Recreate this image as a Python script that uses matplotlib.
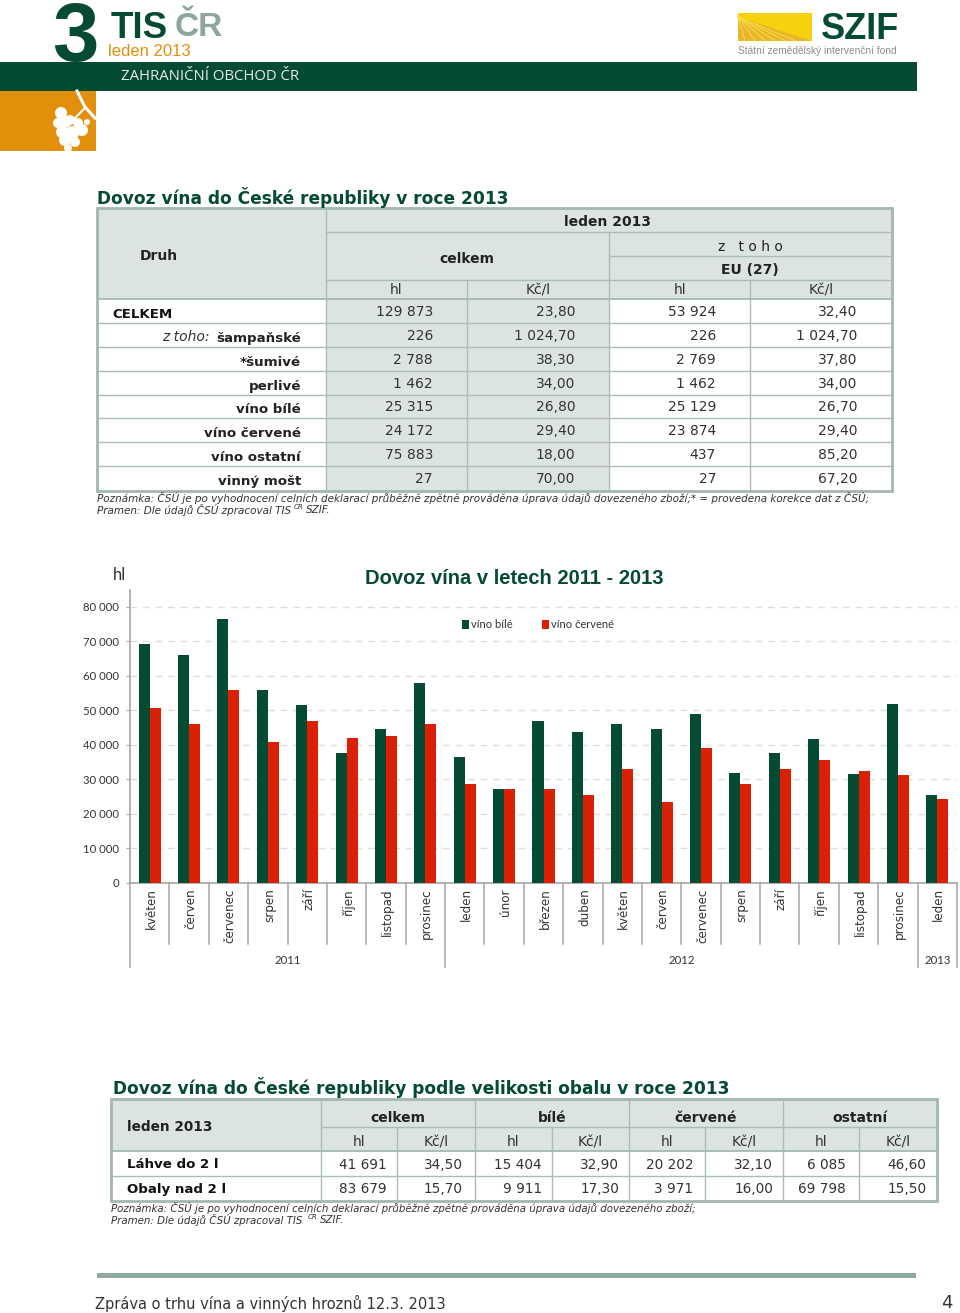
import numpy as np
import matplotlib
matplotlib.use("Agg")
import matplotlib.pyplot as plt
from matplotlib.patches import Rectangle, Ellipse, Polygon
from matplotlib.transforms import ScaledTranslation

# data
months = ["květen", "červen", "červenec", "srpen", "září", "říjen", "listopad", "prosinec",
          "leden", "únor", "březen", "duben", "květen", "červen", "červenec", "srpen",
          "září", "říjen", "listopad", "prosinec", "leden"]
bile = [69300, 65900, 76500, 56000, 51400, 37500, 44600, 57800, 36500, 27200, 46800,
        43800, 45900, 44600, 48900, 31900, 37500, 41600, 31500, 51900, 25500]
cervene = [50600, 46000, 56000, 40900, 46800, 42000, 42600, 46000, 28500, 27200, 27200,
           25500, 32900, 23500, 39100, 28500, 32900, 35700, 32400, 31100, 24300]
years = ["2011", "2012", "2013"]
year_counts = [8, 12, 1]
y_ticks = [0, 10000, 20000, 30000, 40000, 50000, 60000, 70000, 80000]

druh = ["CELKEM", "šampaňské", "*šumivé", "perlivé", "víno bílé", "víno červené", "víno ostatní", "vinný mošt"]
celkem_hl = ["129 873", "226", "2 788", "1 462", "25 315", "24 172", "75 883", "27"]
celkem_kc = ["23,80", "1 024,70", "38,30", "34,00", "26,80", "29,40", "18,00", "70,00"]
eu_hl = ["53 924", "226", "2 769", "1 462", "25 129", "23 874", "437", "27"]
eu_kc = ["32,40", "1 024,70", "37,80", "34,00", "26,70", "29,40", "85,20", "67,20"]

obal_druh = ["Láhve do 2 l", "Obaly nad 2 l"]
obal_skupiny = ["celkem", "bílé", "červené", "ostatní"]
obal_radky = [["41 691", "34,50", "15 404", "32,90", "20 202", "32,10", "6 085", "46,60"],
              ["83 679", "15,70", "9 911", "17,30", "3 971", "16,00", "69 798", "15,50"]]

GREEN = "#054A33"
RED = "#DA2106"
ORANGE = "#E28F0B"
SHADE = "#DCE4E0"
LINE = "#A9BDB6"
BORDER = "#A3B7B0"
SANS = "Liberation Sans"
NARROW = "Lato"
VERD = "DejaVu Sans"

fig = plt.figure(figsize=(9.6, 13.13), dpi=100, facecolor="white")

# stranka v pixelech
pg = fig.add_axes([0, 0, 1, 1])
pg.set_xlim(0, 960)
pg.set_ylim(1313, 0)
pg.axis("off")


def rect(x0, y0, x1, y1, color, z=1):
    pg.add_patch(Rectangle((x0, y0), x1 - x0, y1 - y0, fc=color, ec="none", zorder=z))


def line(x0, y0, x1, y1, color=LINE, lw=1.0, z=3):
    pg.plot([x0, x1], [y0, y1], color=color, lw=lw, zorder=z, solid_capstyle="butt")


def txt(x, y, s, size=10, ha="left", color="#222222", weight="normal", style="normal", family=VERD, z=5):
    pg.text(x, y, s, fontsize=size, ha=ha, va="center", color=color, fontweight=weight,
            fontstyle=style, family=family, zorder=z)


# hlavicka
txt(52, 39, "3", size=60, color=GREEN, weight="bold", family=SANS, z=1)
txt(111, 28, "TIS", size=26.5, color=GREEN, weight="bold", family=SANS)
txt(175, 27, "ČR", size=24, color="#8FA5A0", weight="bold", family=SANS)
txt(108, 51, "leden 2013", size=12, color=ORANGE, family=SANS)
rect(0, 62, 917, 91, GREEN, z=2)
txt(121, 77, "ZAHRANIČNÍ OBCHOD ČR", size=10.7, color="#E8EEEA", family="Open Sans")
rect(0, 91, 96, 151, ORANGE)
for ex, ey, r in [(61, 113, 6), (58, 123, 5), (65, 122, 6), (70, 120, 5), (78, 123, 5), (87, 122, 3),
                  (62, 132, 6), (72, 133, 7), (82, 130, 6), (65, 140, 6), (75, 142, 5), (68, 148, 4)]:
    pg.add_patch(Ellipse((ex, ey), 2 * r, 2 * r, fc="white", ec="none", zorder=3))
pg.plot([77, 85, 95], [91, 107, 118], color="white", lw=2.2, zorder=3)
pg.plot([85, 75], [108, 118], color="white", lw=1.5, zorder=3)
# logo SZIF
rect(738, 13, 812, 40.5, "#F5D10E")
pg.add_patch(Polygon([(738, 17), (738, 40.5), (812, 40.5)], fc="#E9B62B", ec="none", zorder=2))
for bx in [745, 755, 765, 775, 785, 795]:
    pg.plot([738, bx], [17, 40.5], color="#F7DC4A", lw=0.7, zorder=3)
txt(821, 29.5, "SZIF", size=26, color=GREEN, weight="bold", family=SANS)
txt(738, 51, "Státní zemědělský intervenční fond", size=7.3, color="#8A8F8C", family=SANS)

# tabulka 1
txt(97, 197, "Dovoz vína do České republiky v roce 2013", size=12.25, color=GREEN, weight="bold")
tx = [97, 325.5, 467, 608.5, 750, 892]
rows = [299, 323, 346.7, 370.7, 394.7, 418, 441.7, 465.7, 490.5]
rect(tx[0], 208, tx[5], 299, SHADE)
rect(tx[1], 299, tx[3], 490.5, SHADE)
line(tx[1], 232, tx[5], 232)
line(tx[3], 256, tx[5], 256)
line(tx[1], 279.5, tx[5], 279.5)
line(tx[0], 299, tx[5], 299, lw=1.4)
for ry in rows[1:-1]:
    line(tx[0], ry, tx[5], ry)
line(tx[1], 208, tx[1], 490.5)
line(tx[3], 232, tx[3], 490.5)
line(tx[2], 279.5, tx[2], 490.5)
line(tx[4], 279.5, tx[4], 490.5)
pg.add_patch(Rectangle((tx[0], 208), tx[5] - tx[0], 282.5, fc="none", ec=BORDER, lw=2, zorder=4))

txt(608, 221.5, "leden 2013", size=10, ha="center", weight="bold")
txt(750, 247, "z   t o h o", size=10, ha="center")
txt(750, 270.5, "EU (27)", size=10, ha="center", weight="bold")
txt(467, 259, "celkem", size=10, ha="center", weight="bold")
txt(159, 255.5, "Druh", size=10, ha="center", weight="bold")
for cx, lab in zip([396.5, 538, 680, 821], ["hl", "Kč/l", "hl", "Kč/l"]):
    txt(cx, 290.5, lab, size=10, ha="center", color="#333333")

for i in range(len(druh)):
    ry = (rows[i] + rows[i + 1]) / 2 + 1
    if i == 0:
        txt(112, ry + 2, druh[i], size=9.6, weight="bold", color="#111111")
    else:
        txt(301, ry + 2.5, druh[i], size=9.6, ha="right", weight="bold", color="#222222")
    txt(433, ry, celkem_hl[i], size=10, ha="right", color="#333333")
    txt(575.5, ry, celkem_kc[i], size=10, ha="right", color="#333333")
    txt(716, ry, eu_hl[i], size=10, ha="right", color="#333333")
    txt(857.5, ry, eu_kc[i], size=10, ha="right", color="#333333")
txt(210, rows[1] + 14, "z toho:", size=10, ha="right", style="italic", color="#333333")

txt(97, 498, "Poznámka: ČSÚ je po vyhodnocení celních deklarací průběžně zpětně prováděna úprava údajů dovezeného zboží;* = provedena korekce dat z ČSÚ;",
    size=7.45, style="italic", color="#333333")
txt(97, 510, "Pramen: Dle údajů ČSÚ zpracoval TIS", size=7.45, style="italic", color="#333333")
txt(294, 507, "ČR", size=5, style="italic", color="#333333")
txt(306, 510, "SZIF.", size=7.45, style="italic", color="#333333")

# graf
x0_px, x1_px, y0_px, top_px = 130, 957, 882.7, 590
ax = fig.add_axes([x0_px / 960, 1 - y0_px / 1313, (x1_px - x0_px) / 960, (y0_px - top_px) / 1313])
ax.patch.set_alpha(0)
pos = np.arange(len(months)) + 0.5
bw = 0.28
ax.bar(pos - bw / 2, bile, bw, color=GREEN, label="víno bílé", zorder=3)
ax.bar(pos + bw / 2, cervene, bw, color=RED, label="víno červené", zorder=3)
ax.set_xlim(0, len(months))
ax.set_ylim(0, (y0_px - top_px) / 34.5 * 10000)
ax.set_yticks(y_ticks)
ax.set_yticklabels([f"{v:,}".replace(",", " ") for v in y_ticks], family=NARROW, fontsize=8.2, color="#333333")
ax.yaxis.grid(True, color="#E2DEDB", lw=1, ls=(0, (5, 4)), zorder=0)
ax.set_axisbelow(True)
for s in ["top", "right"]:
    ax.spines[s].set_visible(False)
for s in ["left", "bottom"]:
    ax.spines[s].set_color("#A6A6A6")
    ax.spines[s].set_linewidth(1.2)
ax.tick_params(axis="y", length=3, color="#A6A6A6", pad=5)
ax.set_xticks(pos)
ax.set_xticklabels(months, rotation=90, fontsize=8.6, family=VERD, color="#333333", va="top", ha="center")
ax.tick_params(axis="x", length=0, pad=4)
for lab in ax.get_xticklabels():
    lab.set_transform(lab.get_transform() + ScaledTranslation(1.5 / 100, 0, fig.dpi_scale_trans))

# oddelovace mesicu a let pod osou
tr = ax.get_xaxis_transform()
hm = (944 - y0_px) / (y0_px - top_px)
hy = (967 - y0_px) / (y0_px - top_px)
edges = np.cumsum([0] + year_counts)
for k in range(len(months) + 1):
    h = hy if k in edges else hm
    ax.plot([k, k], [0, -h], transform=tr, color="#A6A6A6", lw=1.1, clip_on=False)
for yr, a, b in zip(years, edges[:-1], edges[1:]):
    ax.text((a + b) / 2, -(960 - y0_px) / (y0_px - top_px), yr, transform=tr, ha="center", va="center",
            fontsize=8.2, family=NARROW, color="#333333")

txt(113, 575.5, "hl", size=12, family=NARROW, color="#333333")
txt(365, 579, "Dovoz vína v letech 2011 - 2013", size=14.5, color=GREEN, weight="bold", family=SANS)
rect(462, 620, 469, 629, GREEN, z=6)
txt(471, 624.5, "víno bílé", size=8, family=NARROW, color="#333333", z=6)
rect(542, 620, 549, 629, RED, z=6)
txt(551, 624.5, "víno červené", size=8, family=NARROW, color="#333333", z=6)

# tabulka 2
txt(113, 1088, "Dovoz vína do České republiky podle velikosti obalu v roce 2013", size=12.28, color=GREEN, weight="bold")
t2x = [111, 320.5, 397, 475, 552, 629, 705, 783, 859, 937]
t2y = [1099, 1127, 1151, 1175.7, 1200.5]
rect(t2x[0], t2y[0], t2x[9], t2y[2], SHADE)
line(t2x[1], t2y[1], t2x[9], t2y[1])
line(t2x[0], t2y[2], t2x[9], t2y[2], lw=1.4)
line(t2x[0], t2y[3], t2x[9], t2y[3])
for k in [1, 3, 5, 7]:
    line(t2x[k], t2y[0], t2x[k], t2y[4])
for k in [2, 4, 6, 8]:
    line(t2x[k], t2y[1], t2x[k], t2y[4])
pg.add_patch(Rectangle((t2x[0], t2y[0]), t2x[9] - t2x[0], t2y[4] - t2y[0], fc="none", ec=BORDER, lw=2, zorder=4))
txt(127, 1127, "leden 2013", size=9.8, weight="bold")
for g, lab in enumerate(obal_skupiny):
    txt((t2x[1 + 2 * g] + t2x[3 + 2 * g]) / 2, 1117.5, lab, size=10, ha="center", weight="bold")
    txt((t2x[1 + 2 * g] + t2x[2 + 2 * g]) / 2, 1142.5, "hl", size=10, ha="center", color="#333333")
    txt((t2x[2 + 2 * g] + t2x[3 + 2 * g]) / 2, 1142.5, "Kč/l", size=10, ha="center", color="#333333")
right_px = [387, 463, 542, 619, 693, 773, 846, 926.5]
for r, ry in enumerate([1165, 1189]):
    txt(127, ry, obal_druh[r], size=9.6, weight="bold", color="#111111")
    for val, rx in zip(obal_radky[r], right_px):
        txt(rx, ry, val, size=9.8, ha="right", color="#333333")
txt(111, 1208, "Poznámka: ČSÚ je po vyhodnocení celních deklarací průběžně zpětně prováděna úprava údajů dovezeného zboží;",
    size=7.42, style="italic", color="#333333")
txt(111, 1220, "Pramen: Dle údajů ČSÚ zpracoval TIS", size=7.42, style="italic", color="#333333")
txt(308, 1217, "ČR", size=5, style="italic", color="#333333")
txt(320, 1220, "SZIF.", size=7.42, style="italic", color="#333333")

# paticka
rect(97, 1273, 916, 1278, "#8FA8A0")
txt(95, 1303, "Zpráva o trhu vína a vinných hroznů 12.3. 2013", size=10.5, color="#333333")
txt(947, 1303, "4", size=13, ha="center", color="#333333")

fig.savefig("out.png", dpi=100)
